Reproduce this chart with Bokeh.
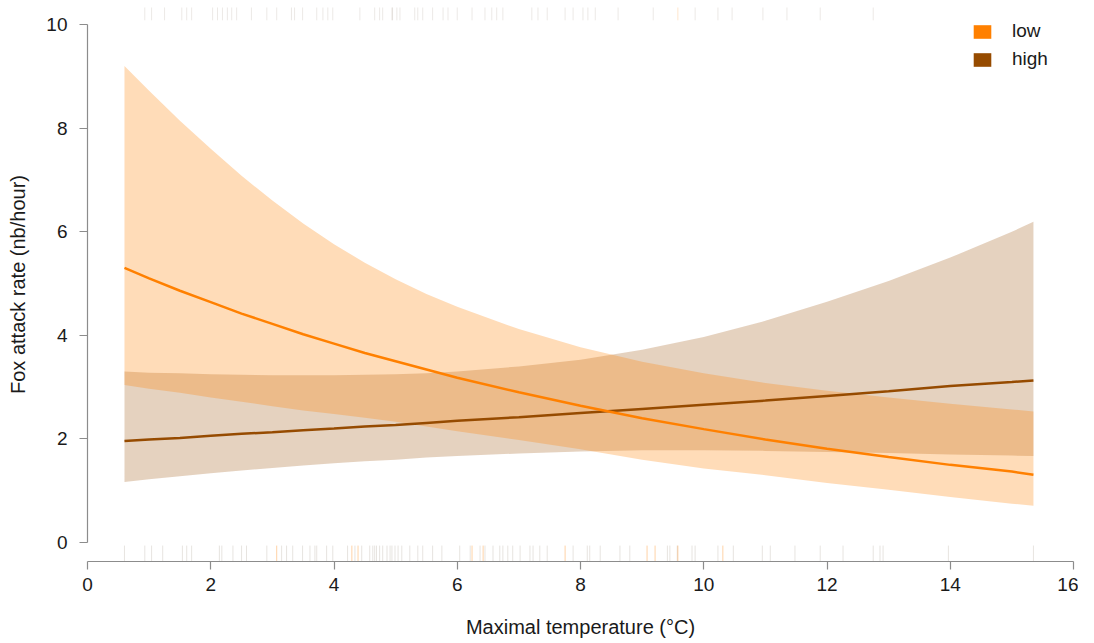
import numpy as np
from bokeh.plotting import figure
from bokeh.models import Range1d, FixedTicker, Legend, LegendItem
from bokeh.embed import file_html
from bokeh.resources import INLINE

# ---------------- data ----------------
temp = [0.6, 1, 1.5, 2, 2.5, 3, 3.5, 4, 4.5, 5, 5.5, 6, 7, 8, 9, 10, 11, 12, 13, 14, 15, 15.35]

low_mean = [5.30, 5.10, 4.86, 4.64, 4.42, 4.22, 4.02, 3.84, 3.66, 3.50, 3.34, 3.18, 2.90, 2.64,
            2.40, 2.19, 1.99, 1.81, 1.65, 1.50, 1.37, 1.31]
low_upper = [9.20, 8.72, 8.14, 7.60, 7.08, 6.60, 6.16, 5.76, 5.40, 5.08, 4.80, 4.55, 4.12, 3.77,
             3.49, 3.27, 3.08, 2.93, 2.80, 2.68, 2.57, 2.53]
low_lower = [3.04, 2.97, 2.89, 2.80, 2.72, 2.63, 2.55, 2.48, 2.41, 2.33, 2.24, 2.15, 1.98, 1.80,
             1.60, 1.43, 1.30, 1.15, 1.02, 0.88, 0.75, 0.71]

high_mean = [1.96, 1.99, 2.02, 2.06, 2.10, 2.13, 2.17, 2.20, 2.24, 2.27, 2.31, 2.35, 2.42, 2.50,
             2.58, 2.66, 2.74, 2.83, 2.92, 3.02, 3.10, 3.13]
high_upper = [3.30, 3.28, 3.27, 3.25, 3.24, 3.23, 3.23, 3.23, 3.24, 3.25, 3.27, 3.30, 3.40, 3.53,
              3.72, 3.97, 4.28, 4.65, 5.05, 5.50, 6.00, 6.19]
high_lower = [1.17, 1.22, 1.28, 1.34, 1.39, 1.44, 1.49, 1.53, 1.57, 1.60, 1.64, 1.67, 1.72, 1.76,
              1.78, 1.78, 1.77, 1.75, 1.73, 1.70, 1.68, 1.67]

# rug (observed temperatures)
rug_top_high = [0.93, 1.04, 1.25, 1.53, 1.61, 1.69, 2.03, 2.11, 2.19, 2.27, 2.34, 2.42, 2.66, 2.91,
                3.07, 3.31, 3.36, 3.49, 3.72, 3.82, 3.90, 3.98, 4.42, 4.66, 4.74, 4.79, 4.94, 4.95,
                5.02, 5.07, 5.31, 5.36, 5.44, 5.60, 5.77, 5.85, 6.00, 6.24, 6.45, 6.56, 6.64, 6.74,
                7.21, 7.31, 7.46, 7.75, 7.88, 8.04, 8.12, 8.24, 8.61, 9.18, 9.86, 10.23,
                10.46, 10.96, 11.35, 11.89, 12.75]
rug_top_low = [9.58]
rug_bottom_high = [0.60, 0.93, 1.04, 1.22, 1.54, 1.61, 1.69, 2.14, 2.18, 2.36, 2.50, 2.58, 2.91,
                   3.15, 3.23, 3.33, 3.49, 3.61, 3.69, 3.72, 3.88, 3.98, 4.22, 4.34, 4.45,
                   4.58, 4.63, 4.66, 4.69, 4.74, 4.79, 4.86, 4.91, 4.94, 4.99, 5.04, 5.10, 5.23,
                   5.36, 5.44, 5.60, 5.75, 6.04, 6.21, 6.37, 6.45, 6.58, 6.69, 6.74, 6.82,
                   6.90, 7.02, 7.18, 7.23, 7.34, 7.46, 7.88, 8.11, 8.15, 8.32, 8.64, 8.80, 9.41,
                   9.45, 9.57, 9.81, 9.86, 10.23, 10.48, 10.95, 11.08, 11.48, 11.89, 12.26,
                   12.75, 12.86, 12.91, 13.97, 15.35]
rug_bottom_low = [3.07, 4.29, 4.39, 6.24, 6.42, 7.75, 9.08, 9.21, 9.58, 10.31]

groups = ["low", "high"]
x_ticks = [0, 2, 4, 6, 8, 10, 12, 14, 16]
y_ticks = [0, 2, 4, 6, 8, 10]

# ---------------- style ----------------
ORANGE = "#FF8000"
BROWN = "#964B00"
RUG = "#6b5540"
FONT = "Liberation Sans"

p = figure(width=1078, height=640,
           x_range=Range1d(0, 16), y_range=Range1d(-0.365, 10.327),
           output_backend="svg", toolbar_location=None,
           min_border_left=87, min_border_right=5, min_border_top=7, min_border_bottom=77)
p.outline_line_color = None
p.xgrid.visible = False
p.ygrid.visible = False
p.background_fill_color = "white"

# bands
p.varea(x=temp, y1=high_lower, y2=high_upper, fill_color=BROWN, fill_alpha=0.25)
p.varea(x=temp, y1=low_lower, y2=low_upper, fill_color=ORANGE, fill_alpha=0.28)

# mean lines
p.line(x=temp, y=high_mean, line_color=BROWN, line_width=2.5)
p.line(x=temp, y=low_mean, line_color=ORANGE, line_width=2.5)

# rugs
bot0, bot1 = -0.4, -0.058
top0, top1 = 10.08, 10.5
p.segment(x0=rug_bottom_high, x1=rug_bottom_high, y0=[bot0] * len(rug_bottom_high),
          y1=[bot1] * len(rug_bottom_high), line_color=RUG, line_alpha=0.16, line_width=1)
p.segment(x0=rug_bottom_low, x1=rug_bottom_low, y0=[bot0] * len(rug_bottom_low),
          y1=[bot1] * len(rug_bottom_low), line_color=ORANGE, line_alpha=0.35, line_width=1)
p.segment(x0=rug_top_high, x1=rug_top_high, y0=[top0] * len(rug_top_high),
          y1=[top1] * len(rug_top_high), line_color=RUG, line_alpha=0.13, line_width=1)
p.segment(x0=rug_top_low, x1=rug_top_low, y0=[top0] * len(rug_top_low),
          y1=[top1] * len(rug_top_low), line_color=ORANGE, line_alpha=0.2, line_width=1)

# axes
xa = p.xaxis[0]
xa.bounds = (0, 16)
xa.ticker = FixedTicker(ticks=x_ticks)
xa.axis_label = "Maximal temperature (°C)"
ya = p.yaxis[0]
ya.bounds = (0, 10)
ya.ticker = FixedTicker(ticks=y_ticks)
ya.axis_label = "Fox attack rate (nb/hour)"
for ax in (xa, ya):
    ax.axis_line_color = "#8c8c8c"
    ax.axis_line_width = 1.2
    ax.major_tick_line_color = "#8c8c8c"
    ax.major_tick_line_width = 1.2
    ax.major_tick_in = 0
    ax.major_tick_out = 8
    ax.minor_tick_line_color = None
    ax.major_label_text_font = FONT
    ax.major_label_text_font_size = "19px"
    ax.major_label_text_color = "#1a1a1a"
    ax.axis_label_text_font = FONT
    ax.axis_label_text_font_size = "20px"
    ax.axis_label_text_font_style = "normal"
    ax.axis_label_text_color = "#1a1a1a"
xa.major_label_standoff = 8
xa.axis_label_standoff = 22
ya.major_label_standoff = 12
ya.axis_label_standoff = 14

# legend
nan = [float("nan")]
r_low = p.quad(left=nan, right=nan, top=nan, bottom=nan, fill_color=ORANGE, line_color=None)
r_high = p.quad(left=nan, right=nan, top=nan, bottom=nan, fill_color=BROWN, line_color=None)
legend = Legend(items=[LegendItem(label=groups[0], renderers=[r_low]),
                       LegendItem(label=groups[1], renderers=[r_high])],
                location=(884, 491), orientation="vertical")
legend.padding = 0
legend.margin = 0
legend.spacing = 6
legend.glyph_width = 22
legend.glyph_height = 17
legend.label_standoff = 19
legend.label_text_font = FONT
legend.label_text_font_size = "19px"
legend.label_text_color = "#1a1a1a"
legend.border_line_color = None
legend.background_fill_alpha = 0
p.add_layout(legend)

open("out.html", "w").write(file_html(p, INLINE))
